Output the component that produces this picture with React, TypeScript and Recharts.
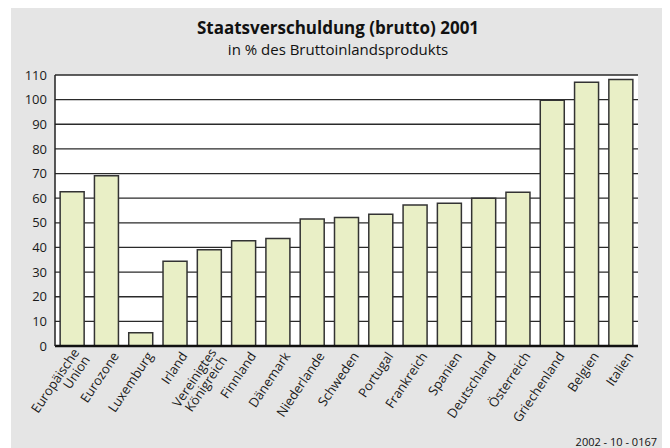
import { BarChart, Bar, XAxis, YAxis, CartesianGrid } from "recharts";

const countries = [
  "Europäische\nUnion",
  "Eurozone",
  "Luxemburg",
  "Irland",
  "Vereinigtes\nKönigreich",
  "Finnland",
  "Dänemark",
  "Niederlande",
  "Schweden",
  "Portugal",
  "Frankreich",
  "Spanien",
  "Deutschland",
  "Österreich",
  "Griechenland",
  "Belgien",
  "Italien",
];

const debt = [62.6, 69.1, 5.4, 34.4, 39.1, 42.7, 43.6, 51.6, 52.2, 53.5, 57.2, 57.9, 60.0, 62.4, 99.8, 107.1, 108.2];

const yTicks = [0, 10, 20, 30, 40, 50, 60, 70, 80, 90, 100, 110];

const data = countries.map((name, i) => ({ name, value: debt[i] }));

const FONT = "'Open Sans', 'DejaVu Sans', sans-serif";

function CountryTick(props: any) {
  const { x, y, payload } = props;
  const lines = String(payload.value).split("\n");
  const ax = x + 13;
  const ay = y + 2;
  const lh = 13;
  return (
    <text
      transform={`rotate(-56, ${ax}, ${ay})`}
      x={ax}
      y={ay}
      textAnchor="end"
      fontSize={13}
      fontFamily={FONT}
      fill="#1a1a1a"
    >
      {lines.map((l, i) => (
        <tspan key={i} x={ax} dy={i === 0 ? -((lines.length - 1) * lh) / 2 : lh}>
          {l}
        </tspan>
      ))}
    </text>
  );
}

export default function App() {
  return (
    <div
      style={{
        position: "relative",
        marginLeft: 3,
        width: 654,
        height: 440,
        background: "#e5e5e5",
        fontFamily: FONT,
        color: "#111",
      }}
    >
      <div
        style={{
          position: "absolute",
          top: 11,
          left: 0,
          width: 654,
          textAlign: "center",
          fontSize: 17,
          fontWeight: 700,
          lineHeight: 1,
        }}
      >
        Staatsverschuldung (brutto) 2001
      </div>
      <div
        style={{
          position: "absolute",
          top: 34,
          left: 0,
          width: 654,
          textAlign: "center",
          fontSize: 15,
          lineHeight: 1,
        }}
      >
        in % des Bruttoinlandsprodukts
      </div>
      <BarChart
        width={654}
        height={440}
        data={data}
        margin={{ top: 67, right: 27, bottom: 2, left: 0 }}
        barCategoryGap="15%"
      >
        <CartesianGrid vertical={false} stroke="#2a2a2a" strokeWidth={1.3} fill="#ffffff" fillOpacity={1} />
        <XAxis
          dataKey="name"
          interval={0}
          height={100}
          tickLine={false}
          axisLine={{ stroke: "#111", strokeWidth: 2.5 }}
          tick={<CountryTick />}
        />
        <YAxis
          domain={[0, 110]}
          ticks={yTicks}
          width={44}
          tickLine={false}
          axisLine={{ stroke: "#222", strokeWidth: 1.5 }}
          tick={{ fontSize: 13, fontFamily: FONT, fill: "#1a1a1a" }}
          interval={0}
        />
        <YAxis
          yAxisId="frame"
          orientation="right"
          domain={[0, 110]}
          width={0}
          tick={false}
          tickLine={false}
          axisLine={{ stroke: "#222", strokeWidth: 1.5 }}
        />
        <Bar
          dataKey="value"
          fill="#e9efc6"
          stroke="#333"
          strokeWidth={1.5}
          isAnimationActive={false}
        />
      </BarChart>
      <div
        style={{
          position: "absolute",
          top: 428,
          right: 8,
          fontSize: 11,
          lineHeight: 1,
        }}
      >
        2002 - 10 - 0167
      </div>
    </div>
  );
}
